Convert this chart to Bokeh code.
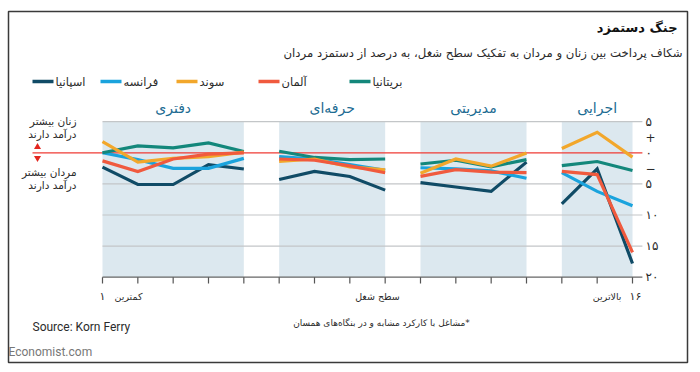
from bokeh.plotting import figure
from bokeh.models import Range1d, Label
from bokeh.embed import file_html
from bokeh.resources import INLINE
from bokeh.core.properties import value

# ---------------- data ----------------
levels = list(range(1, 17))
panel_names = ["دفتری", "حرفه\u200cای", "مدیریتی", "اجرایی"]
panel_start = [1, 6, 10, 14]
panel_end = [5, 9, 13, 16]

country_names = ["اسپانیا", "فرانسه", "سوند", "آلمان", "بریتانیا"]
spain = [2.3, 5.1, 5.1, 1.9, 2.6, 4.3, 3.0, 3.8, 6.0, 4.8, 5.5, 6.2, 1.5, 8.2, 2.6, 17.8]
france = [0.0, 1.1, 2.5, 2.5, 0.9, 0.6, 1.0, 1.9, 2.8, 2.4, 2.6, 2.9, 4.1, 3.2, 6.2, 8.5]
sweden = [-1.8, 1.5, 0.9, 0.6, -0.1, 1.4, 1.0, 2.25, 2.75, 3.3, 1.0, 2.15, 0.05, -0.7, -3.3, 0.7]
germany = [1.3, 3.0, 1.0, 0.2, 0.0, 1.0, 1.2, 2.1, 3.2, 3.8, 2.7, 3.1, 3.2, 3.0, 3.5, 16.0]
britain = [0.0, -1.1, -0.8, -1.6, -0.2, -0.25, 0.75, 1.1, 1.0, 1.8, 1.2, 2.25, 1.1, 2.05, 1.4, 2.85]

y_ticks = [-5, -2.5, 0, 2.5, 5, 10, 15, 20]
y_tick_labels = ["۵", "+", "۰", "−", "۵", "۱۰", "۱۵", "۲۰"]
grid_values = [-5, 5, 10, 15]
axis_value = 20

title = "جنگ دستمزد"
subtitle = "شکاف پرداخت بین زنان و مردان به تفکیک سطح شغل، به درصد از دستمزد مردان"
women_label = ["زنان بیشتر", "درآمد دارند"]
men_label = ["مردان بیشتر", "درآمد دارند"]
footnote = "\u200f*مشاغل با کارکرد مشابه و در بنگاه\u200cهای همسان"

# ---------------- styles ----------------
series = [spain, france, sweden, germany, britain]
colors = ["#104b66", "#1aa3dd", "#f2a72b", "#f05a3e", "#13877b"]
draw_order = [0, 1, 4, 2, 3]
FS = "DejaVu Sans"
FA = value(FS)
LAT = "Roboto"
TXT = "#2b2b2b"

# pixel geometry of the frame (page coordinates)
SX = (632 - 102) / 15
SY = 6.22
FL, FT, FR, FB = 8, 11, 687, 362
W, H = 700, 372
FW, FH = FR - FL, FB - FT
x0 = 1 - (102 - FL) / SX
x1 = x0 + FW / SX
ytop = -(152.3 - FT) / SY
ybot = ytop + FH / SY


def X(px):
    return x0 + (px - FL) / SX


def Y(py):
    return ytop + (py - FT) / SY


def label(px, py, text, size, align="left", color=TXT, font=FS, style="normal"):
    p.add_layout(Label(x=X(px), y=Y(py), text=text, text_font=font, text_font_size=size,
                       text_font_style=style, text_color=color, text_align=align,
                       text_baseline="middle"))


p = figure(width=W, height=H, x_range=Range1d(x0, x1), y_range=Range1d(ybot, ytop),
           x_axis_type=None, y_axis_type=None, output_backend="svg", toolbar_location=None,
           min_border_left=FL, min_border_right=W - FR, min_border_top=FT, min_border_bottom=H - FB)
p.grid.visible = False
p.outline_line_color = "#3a3a3a"
p.outline_line_width = 1.5
p.background_fill_color = "white"
p.border_fill_color = "white"

xr_end = levels[-1] + 0.28

# panels
p.quad(left=panel_start, right=panel_end, top=y_ticks[0], bottom=axis_value,
       fill_color="#dce8ef", line_color=None)

# gridlines
p.segment(x0=[levels[0]] * len(grid_values), x1=[xr_end] * len(grid_values),
          y0=grid_values, y1=grid_values, line_color="#c3c6c8", line_width=1.2)
# bottom axis line and ticks
p.segment(x0=[levels[0]], x1=[xr_end], y0=[axis_value], y1=[axis_value],
          line_color="#666666", line_width=1.2)
p.segment(x0=levels, x1=levels, y0=[axis_value] * len(levels), y1=[axis_value + 1.0] * len(levels),
          line_color="#555555", line_width=1.2)
# zero line
p.segment(x0=[X(32)], x1=[xr_end], y0=[0], y1=[0], line_color="#ef3b35", line_width=1.3)

# data lines
for ci in draw_order:
    vals = series[ci]
    for s, e in zip(panel_start, panel_end):
        p.line(levels[s - 1:e], vals[s - 1:e], line_color=colors[ci], line_width=3.2,
               line_join="miter")

# panel titles
p.text(x=[(s + e) / 2 for s, e in zip(panel_start, panel_end)], y=[Y(107)] * 4, text=panel_names,
       text_font=FA, text_font_size="14px", text_color="#1c6b92",
       text_align="center", text_baseline="middle")

# right axis labels
p.text(x=[X(645)] * len(y_ticks), y=y_ticks, text=y_tick_labels, text_font=FA,
       text_font_size="12px", text_color=TXT, text_align="left", text_baseline="middle")

# legend
leg_x = [32, 100, 176, 258, 349]
for i in range(5):
    p.segment(x0=[X(leg_x[i])], x1=[X(leg_x[i] + 21)], y0=[Y(81)], y1=[Y(81)],
              line_color=colors[i], line_width=3.5)
    label(leg_x[i] + 23, 81, country_names[i], "11.5px")

# title / subtitle
label(677, 27, title, "13px", align="right", color="#111111", style="bold")
label(682, 52, subtitle, "11.7px", align="right")

# left annotations
for txt, py in zip(women_label + men_label, [120, 133, 171, 184]):
    label(76, py, txt, "10.5px", align="right")
p.scatter(x=[X(37)], y=[Y(146.5)], marker="triangle", size=7, fill_color="#e3261f", line_color=None)
p.scatter(x=[X(37)], y=[Y(157.5)], marker="inverted_triangle", size=7, fill_color="#e3261f", line_color=None)

# bottom labels
label(102, 296, "۱", "11px", align="center")
label(114, 296, "کمترین", "9.5px")
label(377, 296, "سطح شغل", "9.5px", align="center")
label(621, 296, "بالاترین", "9.5px", align="right")
label(635, 296, "۱۶", "11px", align="center")
label(381, 322, footnote, "9px", align="center")

# source and brand
label(32, 326, "Source: Korn Ferry", "12px", font=LAT)
label(8, 351, "Economist.com", "12px", color="#777777", font=LAT)

open("out.html", "w").write(file_html(p, INLINE))
